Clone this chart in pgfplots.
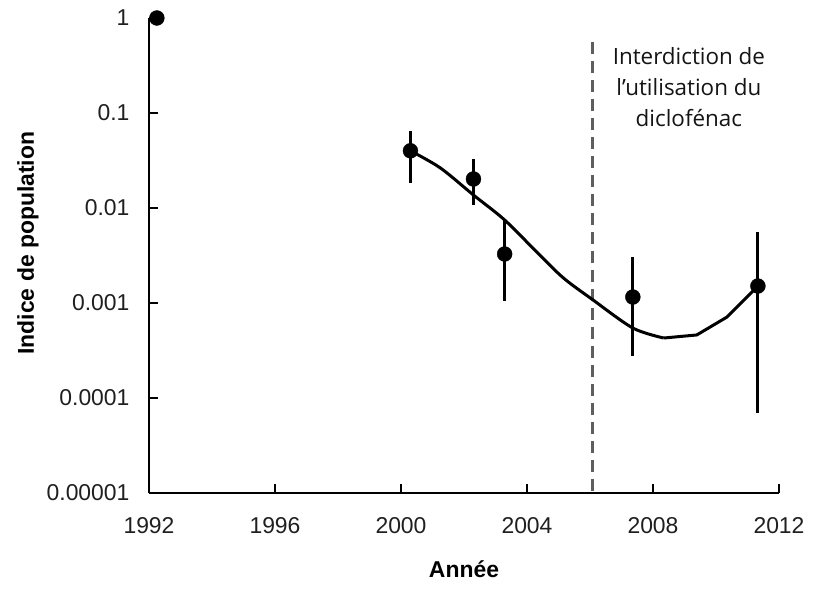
\documentclass[border=0pt]{standalone}
\usepackage{fontspec}
\setmainfont{Liberation Sans}
\newfontfamily\annfont{Open Sans}
\usepackage{pgfplots}
\pgfplotsset{compat=1.18}
\definecolor{dashgray}{HTML}{5E5E5E}
\begin{document}
\begin{tikzpicture}
\path[use as bounding box] (-149bp,-109bp) rectangle (666bp,493bp);
\begin{axis}[
  at={(0,0)}, anchor=south west,
  scale only axis, width=630bp, height=475bp,
  xmin=1992, xmax=2012, ymin=1e-5, ymax=1,
  ymode=log,
  axis lines=left,
  axis line style={-, line width=2.8bp, black},
  xtick={1992,1996,2000,2004,2008,2012},
  xticklabels={1992,1996,2000,2004,2008,2012},
  ytick={1e-5,1e-4,1e-3,1e-2,1e-1,1},
  yticklabels={0.00001,0.0001,0.001,0.01,0.1,1},
  xminorticks=false, yminorticks=false,
  tick align=inside,
  major tick length=9bp,
  tick style={line width=2.5bp, black},
  ticklabel style={font=\fontsize{23}{27}\selectfont, color=black!88},
  xticklabel style={yshift=-21bp},
  yticklabel style={xshift=-16bp},
  xlabel={Année}, ylabel={Indice de population},
  label style={font=\bfseries\fontsize{23}{27}\selectfont},
  xlabel style={at={(axis description cs:0.5,-0.135)}, anchor=north},
  ylabel style={at={(axis description cs:-0.192,0.526)}, anchor=center},
  clip=false,
]
% dashed vertical line (ban of diclofenac)
\addplot[dashgray, line width=3bp, dash pattern=on 12bp off 7bp, forget plot] coordinates {(2006.09,0.56) (2006.09,1e-5)};
% fitted curve (smooth part)
\addplot[black, line width=3bp, mark=none, smooth, tension=0.5] table {
x y
2000.30 0.0400
2001.25 0.0264
2002.30 0.0137
2003.29 0.00748
2004.34 0.00336
2005.16 0.00183
2006.09 0.00108
2007.36 0.000545
2008.34 0.000428
};
% fitted curve (end part)
\addplot[black, line width=3bp, mark=none, line join=round] table {
x y
2008.34 0.000428
2009.39 0.000461
2010.35 0.000712
2011.33 0.00151
};
% error bars
\addplot[black, line width=3bp] coordinates {(2000.30,0.0183) (2000.30,0.065)};
\addplot[black, line width=3bp] coordinates {(2002.30,0.0108) (2002.30,0.0328)};
\addplot[black, line width=3bp] coordinates {(2003.29,0.00105) (2003.29,0.00766)};
\addplot[black, line width=3bp] coordinates {(2007.36,0.000277) (2007.36,0.00305)};
\addplot[black, line width=3bp] coordinates {(2011.33,0.0000695) (2011.33,0.00559)};
% points
\addplot[only marks, mark=*, mark size=7.5pt, black, mark options={fill=black}] table {
x y
1992.25 1
2000.30 0.0400
2002.30 0.0202
2003.29 0.00328
2007.36 0.001156
2011.33 0.00151
};
\node[font=\annfont\fontsize{22.5}{31}\selectfont, align=center, anchor=north, inner sep=0pt, text=black!92] at (axis cs:2009.14,0.495) {Interdiction de\\l’utilisation du\\diclofénac};
\end{axis}
\end{tikzpicture}
\end{document}
